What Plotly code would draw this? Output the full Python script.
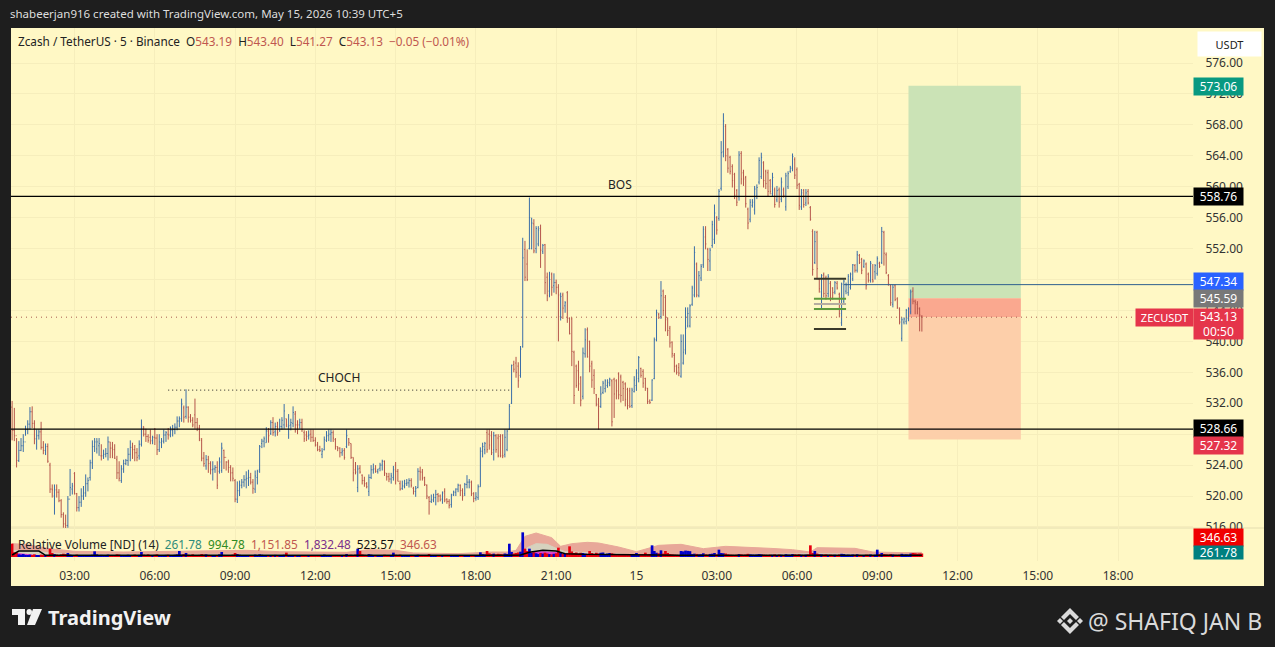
import pandas as pd
import plotly.graph_objects as go

highs = [
532.3,531.4,527.5,527.1,527.5,528.0,529.1,529.8,531.5,531.6,
529.8,528.6,528.6,529.6,527.1,526.8,526.8,524.3,521.5,521.5,
521.5,520.9,519.6,517.9,517.6,520.0,523.5,521.7,523.1,520.4,
520.0,521.0,521.3,522.8,522.4,524.7,527.2,527.5,527.5,527.5,
526.7,526.0,526.2,527.7,527.0,527.0,526.7,525.2,524.5,524.0,
524.7,524.8,526.2,527.2,526.9,526.6,526.2,527.2,529.9,529.0,
528.7,528.0,528.6,527.8,528.8,528.0,528.0,527.5,528.6,528.4,
528.8,529.0,529.2,529.4,530.3,530.3,532.6,531.7,533.8,531.6,
530.6,530.2,532.6,530.1,529.2,527.5,525.7,525.3,525.2,524.5,
524.5,524.0,524.5,525.0,526.9,526.0,524.5,524.7,524.0,523.7,
522.2,521.9,522.0,522.2,522.7,523.2,523.4,523.0,522.2,523.3,
523.4,526.6,527.4,527.7,528.9,528.8,529.8,530.2,529.5,529.6,
530.0,530.2,531.9,530.0,530.6,530.0,531.6,531.0,529.8,530.0,
530.0,528.5,528.4,528.5,528.6,528.6,527.6,527.0,526.5,526.2,
527.7,528.4,528.6,528.6,528.5,527.5,526.4,526.3,526.2,526.2,
528.6,527.5,526.8,525.0,524.4,524.0,524.0,522.8,522.5,521.8,
522.8,524.0,524.2,524.0,523.5,524.3,524.7,524.6,523.0,523.0,
523.0,523.9,524.4,523.5,522.0,522.0,522.1,522.2,522.3,522.3,
521.2,521.3,523.6,523.8,523.5,522.5,521.5,520.0,520.2,520.3,
520.8,520.4,520.2,520.6,521.0,519.7,519.6,520.3,520.7,521.0,
521.6,521.5,521.0,521.7,522.7,522.2,522.0,520.5,520.5,521.5,
526.3,526.9,527.0,528.6,528.6,528.4,528.3,528.0,528.0,528.0,
528.0,528.6,528.6,531.9,537.0,537.5,538.0,537.3,539.4,553.4,
553.0,551.9,558.6,556.0,555.8,554.9,554.9,555.1,552.6,552.6,
548.9,549.0,548.9,548.8,548.0,547.4,546.3,546.3,545.2,546.5,
543.1,543.1,538.8,537.0,537.5,535.5,539.2,541.7,541.8,540.1,
537.5,536.4,533.2,532.7,534.2,534.9,535.1,535.1,535.3,535.1,
535.3,535.1,536.0,535.7,534.9,534.7,534.0,534.0,534.0,535.5,
536.4,538.1,536.6,536.4,535.3,534.0,532.5,535.1,540.5,544.1,
543.7,547.8,546.7,546.0,543.1,542.0,540.0,538.5,537.0,537.2,
540.9,540.9,544.4,544.4,544.8,547.2,552.3,550.2,549.1,550.0,
554.9,554.9,552.1,552.1,555.6,557.7,556.2,559.7,565.9,569.5,
568.1,565.0,564.0,562.9,561.8,559.7,564.6,564.6,562.2,561.4,
557.3,558.4,558.4,560.1,560.3,563.8,564.4,563.3,562.2,562.2,
561.0,561.8,559.9,560.1,559.9,561.2,559.9,561.8,562.0,562.7,
564.3,563.8,562.5,560.5,559.7,559.7,559.7,559.7,557.5,554.5,
554.3,554.3,548.2,548.7,548.9,548.5,548.7,547.8,547.0,547.8,
547.8,546.3,547.6,548.0,547.6,548.7,548.9,550.0,550.0,551.7,
551.3,550.8,550.6,550.2,548.9,550.4,550.0,550.0,551.0,550.3,
554.8,554.3,551.5,548.7,547.4,547.4,547.4,545.7,544.4,543.1,
543.1,544.2,544.4,546.7,547.0,545.4,545.2,544.4,543.4]

lows = [
527.2,527.1,523.7,524.4,525.8,525.7,527.8,528.0,528.6,528.8,
526.7,526.0,527.3,526.0,525.4,525.3,524.3,520.4,519.8,517.6,
519.8,519.2,517.2,515.9,515.8,515.9,520.0,520.2,520.2,518.0,
518.0,518.6,519.5,519.9,520.6,522.0,523.5,525.7,525.5,525.2,
524.6,524.8,525.0,524.6,524.9,524.9,524.8,522.2,521.9,521.7,
523.0,524.0,523.9,524.5,524.8,524.5,524.5,524.7,526.4,527.7,
527.0,526.9,526.7,526.7,526.6,525.3,525.7,526.2,526.8,527.0,
527.3,527.6,527.7,528.0,528.5,528.9,529.6,529.5,530.0,529.5,
529.5,528.9,528.7,528.4,527.1,524.5,523.8,523.4,523.0,522.8,
522.0,523.0,520.9,522.9,523.0,523.5,523.3,523.0,521.9,521.9,
519.2,519.1,520.0,521.0,521.2,521.0,521.3,521.5,520.3,520.4,
521.5,523.0,526.2,526.3,526.9,526.9,527.9,527.8,527.7,527.8,
528.3,528.6,528.7,528.9,527.4,528.5,528.9,528.2,528.0,528.7,
528.3,527.0,527.1,527.3,527.0,527.0,526.4,525.8,525.7,524.9,
525.9,527.0,527.1,527.0,527.0,526.0,525.8,525.0,525.2,524.7,
526.2,526.5,524.8,521.9,522.8,520.5,522.9,521.5,521.2,521.0,
520.0,522.2,522.9,523.0,522.9,523.2,523.3,522.6,522.0,521.8,
521.6,522.0,521.5,521.9,520.7,520.8,521.0,521.3,521.1,521.1,
520.2,519.9,521.0,522.0,522.0,521.3,519.6,517.6,519.1,519.2,
518.8,519.2,519.3,519.0,519.2,519.0,518.4,518.5,520.0,520.0,
520.5,520.0,519.4,520.0,521.0,521.0,520.0,519.2,519.4,519.5,
521.2,525.0,525.4,525.6,526.0,525.3,524.6,525.6,525.0,525.0,
524.9,525.0,525.8,528.6,531.9,536.0,535.3,534.0,535.3,539.2,
547.8,547.8,551.9,551.9,551.4,551.4,552.3,549.5,551.3,546.1,
545.2,545.7,545.9,546.3,546.1,540.0,542.7,542.9,543.7,542.4,
540.9,536.8,531.9,534.0,533.6,531.6,532.5,537.9,537.9,536.0,
534.0,533.2,531.6,528.6,531.4,533.2,533.4,534.0,534.2,529.0,
530.1,532.5,532.5,532.1,532.3,531.6,531.2,531.4,531.4,533.4,
533.6,534.7,535.3,534.0,533.6,531.9,531.9,532.3,535.1,540.0,
542.9,542.9,543.3,541.3,540.7,539.2,537.9,536.0,535.7,535.5,
535.3,537.0,538.3,541.8,541.8,544.6,545.7,545.7,545.7,547.8,
549.5,551.9,549.1,549.1,552.1,552.6,553.8,555.6,559.5,563.8,
563.3,561.8,561.6,559.9,558.4,557.5,558.2,560.3,560.1,557.3,
554.5,555.4,557.3,556.4,558.4,560.3,561.0,559.9,559.7,558.8,
559.0,558.8,557.3,558.0,557.3,558.0,558.6,556.9,559.7,561.8,
562.0,561.0,559.7,557.0,557.0,557.3,557.5,557.7,555.6,548.5,
550.0,548.0,546.3,544.1,545.7,545.4,545.7,545.2,545.4,546.1,
546.7,543.1,542.0,544.8,546.1,545.9,546.7,547.8,548.9,548.9,
550.0,548.7,549.5,546.7,547.6,547.6,547.6,548.0,548.5,549.5,
550.0,549.8,548.7,547.2,544.6,544.4,545.2,544.2,542.2,540.0,
542.2,542.2,542.6,543.5,544.8,543.5,543.5,541.3,541.27]

opens = [
531.5,528.5,527.8,524.6,525.9,526.5,527.0,528.6,529.3,530.9,
529.4,527.4,527.8,528.3,526.3,525.9,526.4,524.0,520.9,520.0,
520.8,520.5,519.4,517.6,516.4,516.2,519.6,520.9,522.9,520.3,
518.5,519.2,520.0,520.4,521.6,522.4,524.3,526.4,526.1,526.5,
525.2,525.2,525.4,525.5,527.0,526.2,526.0,524.7,523.0,522.0,
523.5,524.2,524.6,525.4,526.3,526.0,525.6,525.2,526.7,529.0,
528.0,527.7,527.6,527.2,527.6,527.5,526.0,526.9,527.1,527.9,
528.0,527.9,528.5,528.6,528.9,529.7,530.0,531.4,530.3,531.5,
530.2,529.8,530.5,529.5,528.8,527.2,524.9,523.9,524.7,524.2,
523.4,523.5,523.7,523.2,523.3,525.9,525.0,524.4,523.7,523.0,
522.0,519.6,520.7,521.4,521.8,522.1,522.3,522.4,521.8,520.9,
522.4,523.4,526.8,527.1,526.9,528.4,528.1,529.5,528.3,529.0,
528.6,529.0,529.2,530.0,529.0,529.2,529.4,530.6,529.2,529.2,
529.5,528.2,527.9,527.8,528.0,527.6,527.2,526.6,526.0,525.4,
526.0,527.2,527.8,528.0,528.2,527.3,526.4,526.2,525.6,525.9,
526.4,527.4,526.8,525.0,523.4,521.1,523.6,522.7,522.0,521.6,
520.6,522.4,523.4,523.5,523.2,523.6,524.0,524.5,522.9,522.5,
522.2,522.4,524.0,523.2,521.6,521.0,521.3,521.6,521.7,522.0,
521.0,520.6,521.1,523.2,523.1,522.4,521.4,519.8,519.3,519.5,
519.8,520.2,520.0,519.6,520.6,519.6,519.3,518.9,520.2,520.5,
520.9,521.4,520.7,520.3,521.5,521.8,521.8,520.3,519.7,519.8,
521.2,525.8,526.0,528.2,528.0,527.8,526.0,527.8,527.5,527.7,
527.8,525.4,526.0,528.6,532.0,537.0,537.2,536.8,535.6,539.3,
551.9,550.0,552.0,552.0,555.2,552.0,552.6,554.6,551.6,552.5,
548.3,546.5,548.7,547.2,547.6,547.0,543.2,546.0,544.6,546.3,
543.0,542.9,538.6,536.8,536.2,535.3,532.9,538.4,541.5,540.0,
537.1,535.6,533.1,531.8,531.6,533.4,533.9,534.3,534.6,534.9,
535.1,534.9,535.8,535.4,534.7,534.5,533.8,533.6,531.7,533.5,
534.3,535.2,536.5,536.1,535.2,533.9,532.3,532.4,535.2,540.2,
543.5,543.2,546.5,545.7,543.0,541.7,539.9,538.2,536.8,536.6,
535.5,537.2,538.9,542.0,542.0,544.8,546.0,550.0,545.9,548.2,
549.9,553.5,551.9,550.4,552.4,553.2,556.0,555.9,559.8,564.5,
567.8,564.8,563.8,562.6,561.6,559.5,558.7,564.3,561.8,561.2,
557.1,555.8,557.6,557.0,558.8,560.6,561.3,563.1,562.0,561.8,
560.8,559.1,559.6,558.3,559.6,558.4,559.6,557.4,560.0,562.0,
562.4,563.5,562.2,560.3,557.4,559.5,557.9,559.4,557.3,554.2,
550.2,554.1,548.0,546.4,548.6,548.2,546.2,547.5,546.9,546.4,
547.5,546.1,542.4,545.2,546.5,546.3,547.0,548.1,549.8,549.2,
551.1,550.6,549.7,550.0,548.7,547.9,548.0,549.0,548.8,550.1,
550.2,554.1,551.2,548.5,547.2,544.8,547.2,545.5,544.2,540.4,
542.5,542.6,543.0,543.8,546.5,545.2,544.8,544.2,543.19]

closes = [
528.5,527.8,524.6,525.9,526.5,527.0,528.6,529.3,530.9,529.4,
527.4,527.8,528.3,526.3,525.9,526.4,524.5,520.9,520.8,520.8,
520.5,519.4,517.6,516.4,516.2,519.6,521.1,521.3,520.3,518.5,
519.2,520.0,520.4,521.6,522.0,524.3,526.4,527.0,527.0,526.8,
525.2,525.4,525.5,527.0,526.2,526.0,524.9,523.0,522.3,523.5,
524.2,524.6,525.4,526.3,526.0,525.6,525.0,526.7,528.8,528.0,
527.7,527.2,527.1,527.6,527.5,526.0,527.0,527.1,527.9,528.2,
527.9,528.5,528.6,528.9,529.7,530.0,531.9,530.2,531.5,530.2,
529.8,529.2,529.5,528.8,527.4,524.9,524.2,524.7,524.2,523.4,
523.5,523.7,521.4,524.4,526.2,525.0,524.4,523.7,523.0,522.3,
519.6,520.7,521.4,521.8,522.1,522.3,522.4,521.8,521.0,522.6,
523.2,526.4,527.1,527.4,528.4,527.8,529.5,528.2,529.0,528.2,
529.0,529.8,531.0,529.2,529.1,529.5,530.8,529.2,529.2,529.5,
528.6,527.4,527.7,527.9,527.6,527.2,526.6,526.0,525.9,525.8,
527.3,527.8,528.0,528.2,527.5,526.4,526.2,525.6,525.8,525.0,
527.8,526.9,525.0,523.0,523.1,523.5,523.1,522.0,521.6,521.2,
522.4,523.4,523.5,523.2,523.5,524.0,524.5,523.0,522.5,522.2,
522.6,523.4,523.2,521.9,520.9,521.3,521.6,521.7,522.0,521.4,
520.6,521.0,523.2,523.1,522.3,521.5,520.0,519.3,519.5,519.8,
520.2,520.0,519.5,520.4,519.5,519.3,518.8,520.1,520.5,520.9,
521.4,520.7,520.0,521.5,521.8,521.8,520.3,519.7,519.9,521.2,
525.8,526.4,526.8,526.0,526.6,525.6,527.8,526.0,525.2,525.2,
525.2,527.6,528.4,531.6,536.9,536.4,536.0,534.9,539.0,550.8,
548.3,548.0,556.0,555.3,551.7,554.6,554.4,551.8,552.4,547.6,
545.9,548.0,547.0,547.6,547.0,546.0,545.8,544.3,545.0,543.0,
541.0,538.7,533.0,534.3,534.5,532.4,538.5,540.2,538.0,536.8,
535.0,533.9,531.9,531.6,533.2,534.6,534.9,534.7,535.1,529.6,
533.2,533.6,533.1,533.0,533.9,532.5,531.7,531.6,533.7,535.0,
535.9,537.9,535.6,534.6,534.0,532.2,532.1,535.0,540.2,543.7,
543.1,545.9,544.0,542.8,541.4,539.8,538.4,536.8,536.0,535.9,
540.0,538.6,541.7,543.6,544.6,546.9,551.5,546.0,548.5,549.7,
554.5,552.6,550.6,551.8,555.1,556.6,554.4,559.4,564.4,568.5,
564.0,562.4,562.0,560.8,558.9,558.0,564.1,561.0,561.0,557.8,
555.3,558.0,558.0,559.7,559.9,563.4,563.8,560.8,560.4,559.4,
559.4,561.2,557.7,559.5,558.0,560.6,558.9,561.4,561.7,562.4,
563.9,561.5,560.2,557.6,559.2,557.7,559.2,557.9,555.8,549.3,
552.9,549.4,546.8,548.5,546.2,545.9,548.4,545.6,546.3,547.6,
546.9,543.6,547.4,547.8,547.3,548.4,548.7,549.9,549.2,551.2,
550.2,549.2,550.4,547.2,547.9,550.1,547.8,549.8,550.7,549.7,
554.2,551.4,548.9,547.4,545.0,547.0,545.4,544.4,542.5,542.8,
542.9,544.0,544.2,546.4,545.2,545.0,544.3,543.4,543.13]

volumes = [
1000,350,300,200,180,220,160,140,180,150,
200,150,120,180,140,160,120,625,300,220,
180,150,200,250,220,300,180,150,120,180,
130,150,120,100,150,130,170,425,200,150,
160,130,150,180,140,120,150,200,180,140,
130,120,170,150,140,180,130,160,375,180,
160,200,140,130,170,200,150,140,130,160,
180,150,140,170,200,450,180,220,300,170,
140,200,150,130,160,220,180,200,160,140,
130,150,120,200,375,160,140,130,150,180,
300,220,170,140,130,150,120,110,130,180,
140,200,170,130,150,120,140,130,160,120,
150,130,170,325,140,130,150,120,140,110,
130,120,100,110,130,120,140,110,100,130,
180,140,120,100,110,130,100,90,120,110,
220,150,170,140,180,625,450,200,170,150,
220,180,140,130,120,150,130,170,120,110,
130,325,170,140,180,130,120,110,100,120,
110,130,170,140,120,110,150,220,140,120,
130,110,100,120,130,100,120,110,90,100,
110,120,130,100,120,90,110,130,100,130,
350,220,200,450,280,220,250,200,240,220,
200,260,230,1000,375,260,300,340,400,1850,
625,450,625,300,340,280,220,300,260,325,
260,220,200,240,280,700,320,240,280,300,
800,420,300,340,260,320,300,260,240,450,
300,240,320,260,320,340,220,260,300,280,
240,200,180,220,180,160,200,180,170,200,
300,170,160,190,325,200,220,875,450,320,
280,500,260,450,300,220,200,180,170,160,
450,420,480,460,440,220,250,230,200,210,
280,200,180,230,250,300,200,550,300,280,
260,200,180,170,160,180,220,200,170,190,
240,200,180,170,190,220,200,180,170,160,
180,170,200,160,190,170,150,210,180,170,
220,200,180,210,170,160,180,200,875,300,
450,260,220,200,180,200,170,180,160,170,
150,190,240,220,170,180,160,190,170,210,
160,150,140,180,170,190,150,170,550,220,
300,220,200,180,220,190,170,160,180,240,
190,200,180,260,300,280,250,270,261.78]

upper_idx = [0,6,17,28,50,75,92,105,120,150,160,172,180,200,215,222,226,230,235,242,246,251,258,263,272,280,290,300,310,320,340,350,358,361,378,386,400,408]
upper_val = [1000,950,625,425,375,450,450,500,400,350,550,500,300,250,375,375,500,1550,1800,1450,800,1000,1100,1050,750,400,875,950,625,800,650,550,375,700,650,375,325,346.63]
basis_idx = [0,10,17,30,100,200,226,229,231,235,240,244,248,256,264,270,278,290,320,361,408]
basis_val = [500,450,300,200,200,120,150,300,700,1000,950,650,400,350,300,250,150,200,180,250,150]
lower_idx = [0,12,40,226,230,236,244,248,260,300,408]
lower_val = [300,100,50,100,300,400,350,150,125,75,60]
ma_idx = [0,3,12,15,222,228,232,238,244,248,256,300,408]
ma_val = [150,450,450,125,125,150,350,500,450,250,200,125,130]

time_tick_vals = ["2026-05-14 03:00","2026-05-14 06:00","2026-05-14 09:00","2026-05-14 12:00","2026-05-14 15:00","2026-05-14 18:00","2026-05-14 21:00","2026-05-15 00:00","2026-05-15 03:00","2026-05-15 06:00","2026-05-15 09:00","2026-05-15 12:00","2026-05-15 15:00","2026-05-15 18:00"]
time_tick_text = ["03:00","06:00","09:00","12:00","15:00","18:00","21:00","15","03:00","06:00","09:00","12:00","15:00","18:00"]
price_ticks = [516,520,524,528,532,536,540,544,548,552,556,560,564,568,572,576]

assert len(highs) == len(lows) == len(opens) == len(closes) == len(volumes), (len(highs), len(lows), len(opens), len(closes), len(volumes))

FONT = "Noto Sans"
BG = "#FFF8C5"
GRID = "#F6EEBC"
UP = "#3B6EA8"
DOWN = "#B5554B"
WARM = "#C0574F"

L, R, T, B = 11, 1193, 28, 561
PANE = 528

def px(x):
    return (x - L) / (R - L)

def py(y):
    return 1 - (y - T) / (B - T)

def poly(points):
    return "M " + " L ".join(f"{px(x):.5f},{py(y):.5f}" for x, y in points) + " Z"

times = pd.date_range("2026-05-14 00:40", periods=len(closes), freq="5min")
idx_time = lambda idx: [times[i] for i in idx]

fig = go.Figure()
fig.add_trace(go.Ohlc(x=times, open=opens, high=highs, low=lows, close=closes, yaxis="y",
                      increasing=dict(line=dict(color=UP, width=1)),
                      decreasing=dict(line=dict(color=DOWN, width=1)),
                      tickwidth=0.35, hoverinfo="skip", showlegend=False))
fig.add_trace(go.Scatter(x=idx_time(upper_idx), y=upper_val, yaxis="y2", mode="lines", fill="tozeroy",
                         fillcolor="#E8A899", line=dict(color="#E8A899", width=1), hoverinfo="skip", showlegend=False))
fig.add_trace(go.Scatter(x=idx_time(basis_idx), y=basis_val, yaxis="y2", mode="lines", fill="tozeroy",
                         fillcolor="#D6D2BE", line=dict(color="#D6D2BE", width=1), hoverinfo="skip", showlegend=False))
fig.add_trace(go.Scatter(x=idx_time(lower_idx), y=lower_val, yaxis="y2", mode="lines", fill="tozeroy",
                         fillcolor="#E040D0", line=dict(color="#E040D0", width=1), hoverinfo="skip", showlegend=False))
vol_colors = ["#E8000F" if c < o else "#0000CC" for o, c in zip(opens, closes)]
fig.add_trace(go.Bar(x=times, y=volumes, yaxis="y3", marker=dict(color=vol_colors, line=dict(width=0)),
                     width=360000, hoverinfo="skip", showlegend=False))
fig.add_trace(go.Scatter(x=idx_time(ma_idx), y=ma_val, yaxis="y3", mode="lines",
                         line=dict(color="#000000", width=1.5), hoverinfo="skip", showlegend=False))

X0, X1 = "2026-05-14 00:37:30", "2026-05-15 20:48"
ENTRY_L, ENTRY_R = "2026-05-15 10:10", "2026-05-15 14:22"
shapes = [
    dict(type="rect", xref="paper", yref="paper", x0=px(11), x1=px(1264), y0=py(586), y1=py(28),
         fillcolor=BG, line=dict(width=0), layer="below"),
    dict(type="line", xref="paper", yref="paper", x0=px(11), x1=px(1264), y0=py(PANE), y1=py(PANE),
         line=dict(color="#E4DDB0", width=1), layer="below"),
    dict(type="rect", xref="x", yref="y", x0=ENTRY_L, x1=ENTRY_R, y0=545.59, y1=573.06,
         fillcolor="#CBE3B6", line=dict(width=0), layer="between"),
    dict(type="rect", xref="x", yref="y", x0=ENTRY_L, x1=ENTRY_R, y0=543.13, y1=545.59,
         fillcolor="#FAA88F", line=dict(width=0), layer="between"),
    dict(type="rect", xref="x", yref="y", x0=ENTRY_L, x1=ENTRY_R, y0=527.32, y1=543.13,
         fillcolor="#FDCFAA", line=dict(width=0), layer="between"),
    dict(type="line", xref="x", yref="y", x0=X0, x1=X1, y0=558.76, y1=558.76, line=dict(color="#000000", width=1.2)),
    dict(type="line", xref="x", yref="y", x0=X0, x1=X1, y0=528.66, y1=528.66, line=dict(color="#000000", width=1.2)),
    dict(type="line", xref="x", yref="y", x0="2026-05-15 07:45", x1=X1, y0=547.34, y1=547.34, line=dict(color="#2E5F8E", width=1)),
    dict(type="line", xref="x", yref="y", x0=X0, x1=X1, y0=543.13, y1=543.13, line=dict(color="#A8594F", width=1, dash="1px,4px")),
    dict(type="line", xref="x", yref="y", x0="2026-05-14 06:30", x1="2026-05-14 19:18", y0=533.7, y1=533.7, line=dict(color="#222222", width=1, dash="1px,3px")),
    dict(type="line", xref="x", yref="y", x0="2026-05-15 06:38", x1="2026-05-15 07:50", y0=548.1, y1=548.1, line=dict(color="#3A3A2A", width=2)),
    dict(type="line", xref="x", yref="y", x0="2026-05-15 06:38", x1="2026-05-15 07:50", y0=545.5, y1=545.5, line=dict(color="#5E9A3C", width=2)),
    dict(type="line", xref="x", yref="y", x0="2026-05-15 06:38", x1="2026-05-15 07:50", y0=544.85, y1=544.85, line=dict(color="#B5ADA0", width=2)),
    dict(type="line", xref="x", yref="y", x0="2026-05-15 06:38", x1="2026-05-15 07:50", y0=544.2, y1=544.2, line=dict(color="#5E9A3C", width=2)),
    dict(type="line", xref="x", yref="y", x0="2026-05-15 06:38", x1="2026-05-15 07:50", y0=541.6, y1=541.6, line=dict(color="#3A3A2A", width=2)),
]
LOGO_WHITE = "#F2F2F2"
logo = [
    [(12, 609), (25, 609), (25, 625), (18, 625), (18, 615), (12, 615)],
    [(33, 609), (42, 609), (35, 625), (27, 625)],
]
for p in logo:
    shapes.append(dict(type="path", xref="paper", yref="paper", path=poly(p), fillcolor=LOGO_WHITE, line=dict(width=0)))
shapes.append(dict(type="circle", xref="paper", yref="paper", x0=px(26.5), x1=px(32), y0=py(615), y1=py(609),
                   fillcolor=LOGO_WHITE, line=dict(width=0)))
DIAMOND = "#DADADA"
chev = [
    [(1070, 608), (1079, 617), (1076, 620), (1070, 614), (1064, 620), (1061, 617)],
    [(1070, 634), (1079, 625), (1076, 622), (1070, 628), (1064, 622), (1061, 625)],
    [(1070, 618), (1073, 621), (1070, 624), (1067, 621)],
    [(1060, 618), (1063, 621), (1060, 624), (1057, 621)],
    [(1080, 618), (1083, 621), (1080, 624), (1077, 621)],
]
for p in chev:
    shapes.append(dict(type="path", xref="paper", yref="paper", path=poly(p), fillcolor=DIAMOND, line=dict(width=0)))

def tag(text, x0, x1, y0, y1, color, fc="#FFFFFF", size=12):
    return dict(text=text, xref="paper", yref="paper", x=px((x0 + x1) / 2), y=py((y0 + y1) / 2),
                xanchor="center", yanchor="middle", showarrow=False, bgcolor=color,
                width=x1 - x0, height=y1 - y0, borderpad=0, align="center",
                font=dict(family=FONT, size=size, color=fc))

def label(text, x, y, color="#222222", size=12, anchor="left", family=FONT):
    return dict(text=text, xref="paper", yref="paper", x=px(x), y=py(y), xanchor=anchor, yanchor="middle",
                showarrow=False, font=dict(family=family, size=size, color=color), borderpad=0, borderwidth=0)

def sp(text, color):
    return f'<span style="color:{color}">{text}</span>'

N = "\u00a0"
head = (f"Zcash / TetherUS · 5 · Binance{N}{N}O" + sp("543.19", WARM) + f"{N}{N}H" + sp("543.40", WARM) + f"{N}{N}L" + sp("541.27", WARM)
        + f"{N}{N}C" + sp("543.13", WARM) + N + N + sp("−0.05 (−0.01%)", WARM))
rv = (f"Relative Volume [ND] (14){N}{N}" + sp("261.78", "#2E8B7A") + N + N + sp("994.78", "#2E8B22") + N + N + sp("1,151.85", WARM)
      + N + N + sp("1,832.48", "#7B2F8B") + N + N + sp("523.57", "#111111") + N + N + sp("346.63", WARM))

annotations = [
    label("shabeerjan916 created with TradingView.com, May 15, 2026 10:39 UTC+5", 10, 14, "#DDDDDD", 11.5),
    label(head, 18, 41, "#222222", 11.75),
    label(rv, 18, 544, "#222222", 11.8),
    label("CHOCH", 339, 377, "#222222", 12, "center"),
    label("BOS", 620, 184, "#222222", 12, "center"),
    tag("USDT", 1198, 1261, 32, 56, "#FFFFFF", "#222222", 11),
    tag("573.06", 1194, 1243, 78, 95, "#089981"),
    tag("558.76", 1194, 1243, 188, 205, "#000000"),
    tag("547.34", 1194, 1243, 273, 290, "#2962FF"),
    tag("545.59", 1194, 1243, 290, 307, "#787878"),
    tag("543.13<br>00:50", 1194, 1243, 309, 339, "#E5354B"),
    tag("ZECUSDT", 1136, 1193, 309, 326, "#E5354B", size=11),
    tag("528.66", 1194, 1243, 420, 437, "#000000"),
    tag("527.32", 1194, 1243, 437, 454, "#E5354B"),
    tag("346.63", 1194, 1243, 529, 546, "#F00000"),
    tag("261.78", 1194, 1243, 546, 559, "#008080"),
    label("<b>TradingView</b>", 48, 617, "#F2F2F2", 20),
    label("@ SHAFIQ JAN B", 1088, 621, "#DADADA", 23),
]

fig.update_layout(
    width=1275, height=647, margin=dict(l=L, r=1275 - R, t=T, b=647 - B, pad=0),
    paper_bgcolor="#1E1E1E", plot_bgcolor="rgba(0,0,0,0)", showlegend=False, barmode="overlay",
    font=dict(family=FONT, size=12, color="#333333"),
    xaxis=dict(type="date", range=[X0, X1], rangeslider=dict(visible=False), anchor="y2",
               tickmode="array", tickvals=time_tick_vals, ticktext=time_tick_text, ticks="outside", ticklen=4,
               tickcolor=BG, showgrid=True, gridcolor=GRID, gridwidth=1, zeroline=False, showline=False,
               tickfont=dict(family=FONT, size=12, color="#333333")),
    yaxis=dict(domain=[py(PANE), 1], range=[576 - (PANE - 63) / 7.733, 576 + 35 / 7.733], side="right", anchor="x",
               tickmode="array", tickvals=price_ticks, ticktext=[f"{v:.2f}" for v in price_ticks],
               ticks="outside", ticklen=9, tickcolor=BG, showgrid=True, gridcolor=GRID, gridwidth=1,
               zeroline=False, showline=False, tickfont=dict(family=FONT, size=12, color="#333333")),
    yaxis2=dict(domain=[0, py(PANE)], range=[-300, 2175], anchor="x", showticklabels=False, showgrid=False,
                zeroline=False, showline=False, ticks=""),
    yaxis3=dict(domain=[0, py(PANE)], range=[-300, 2175], anchor="x", overlaying="y2", showticklabels=False, showgrid=False,
                zeroline=False, showline=False, ticks=""),
    shapes=shapes, annotations=annotations,
)

fig.write_html("out.html", config={"displayModeBar": False},
               post_script="document.body.style.margin='0';document.body.style.overflow='hidden';document.body.style.background='#1E1E1E';")
